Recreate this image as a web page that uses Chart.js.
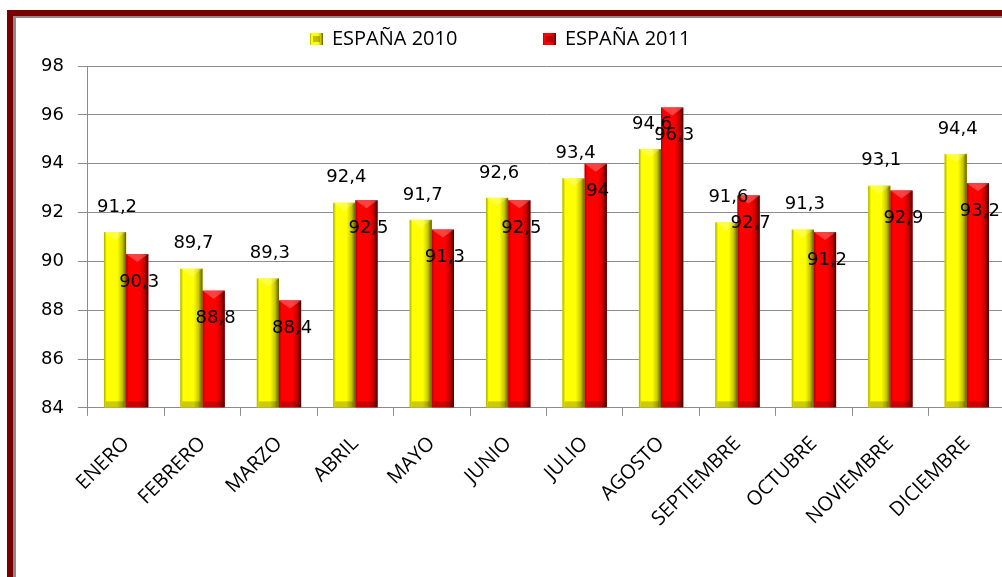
<!DOCTYPE html>
<html>
<head>
<meta charset="utf-8">
<script src="https://cdn.jsdelivr.net/npm/chart.js@4.4.1/dist/chart.umd.min.js"></script>
<style>
  html, body { margin: 0; padding: 0; background: #fff; overflow: hidden; }
  #marco { position: absolute; left: 7px; top: 10px; width: 1100px; height: 700px;
           border-top: 6px solid #780000; border-left: 6px solid #780000; }
  #marco div { width: 100%; height: 100%; border-top: 2px solid #8c8c8c; border-left: 3px solid #8c8c8c; }
  #caja { position: absolute; left: 0; top: 0; width: 1020px; height: 577px; }
</style>
</head>
<body>
<div id="marco"><div></div></div>
<div id="caja"><canvas id="grafico" width="1020" height="577"></canvas></div>
<script>
// Datos de la grafica
const meses = ['ENERO', 'FEBRERO', 'MARZO', 'ABRIL', 'MAYO', 'JUNIO', 'JULIO', 'AGOSTO', 'SEPTIEMBRE', 'OCTUBRE', 'NOVIEMBRE', 'DICIEMBRE'];
const espana2010 = [91.2, 89.7, 89.3, 92.4, 91.7, 92.6, 93.4, 94.6, 91.6, 91.3, 93.1, 94.4];
const espana2011 = [90.3, 88.8, 88.4, 92.5, 91.3, 92.5, 94, 96.3, 92.7, 91.2, 92.9, 93.2];
const series = ['ESPAÑA 2010', 'ESPAÑA 2011'];
const yMin = 84;
const yMax = 98;
const yPaso = 2;

// colores de las barras: [borde claro, centro, medio oscuro, sombra]
const tonos = [
    ['#a9a900', '#ffff00', '#c8c800', '#5c5c00'],
    ['#b00000', '#ff0000', '#c80000', '#3c0000']
];

function numero(v) {
    return String(v).replace('.', ',');
}

function degradado(ctx, x0, x1, t) {
    const g = ctx.createLinearGradient(x0, 0, x1, 0);
    g.addColorStop(0, t[0]);
    g.addColorStop(0.12, t[1]);
    g.addColorStop(0.6, t[1]);
    g.addColorStop(0.82, t[2]);
    g.addColorStop(1, t[3]);
    return g;
}

// barras con efecto cilindro
const barras3d = {
    id: 'barras3d',
    afterDatasetsDraw(chart) {
        const ctx = chart.ctx;
        const area = chart.chartArea;
        ctx.save();
        ctx.beginPath();
        ctx.rect(area.left, area.top, area.right - area.left, area.bottom - area.top);
        ctx.clip();
        chart.data.datasets.forEach((ds, i) => {
            const meta = chart.getDatasetMeta(i);
            meta.data.forEach(bar => {
                const x0 = bar.x - bar.width / 2;
                const x1 = bar.x + bar.width / 2;
                const top = bar.y;
                const base = bar.base;
                ctx.fillStyle = degradado(ctx, x0, x1, tonos[i]);
                ctx.fillRect(x0, top, x1 - x0, base - top);
                // bisel superior
                ctx.fillStyle = 'rgba(255,255,255,0.25)';
                ctx.beginPath();
                ctx.moveTo(x0, top);
                ctx.lineTo(x1, top);
                ctx.lineTo(bar.x, top + 8);
                ctx.closePath();
                ctx.fill();
                // bisel inferior
                ctx.fillStyle = 'rgba(0,0,0,0.2)';
                ctx.fillRect(x0 + 2, base - 6, x1 - x0 - 4, 6);
            });
        });
        ctx.restore();

        // etiquetas de valores
        ctx.save();
        ctx.font = '18px "DejaVu Sans"';
        ctx.fillStyle = '#000';
        ctx.textAlign = 'center';
        ctx.textBaseline = 'middle';
        chart.data.datasets.forEach((ds, i) => {
            const meta = chart.getDatasetMeta(i);
            meta.data.forEach((bar, j) => {
                const dy = i === 0 ? -25 : 28;
                ctx.fillText(numero(ds.data[j]), bar.x + 2, bar.y + dy);
            });
        });
        ctx.restore();
    }
};

// leyenda superior
const leyenda = {
    id: 'leyenda',
    afterDraw(chart) {
        const ctx = chart.ctx;
        const xs = [310, 543];
        ctx.save();
        ctx.font = '20px "Open Sans"';
        ctx.textBaseline = 'middle';
        chart.data.datasets.forEach((ds, i) => {
            const x = xs[i];
            ctx.fillStyle = degradado(ctx, x, x + 13, tonos[i]);
            ctx.fillRect(x, 33, 13, 12);
            ctx.fillStyle = 'rgba(0,0,0,0.25)';
            ctx.fillRect(x + 3, 36, 7, 6);
            ctx.fillStyle = '#000';
            ctx.fillText(ds.label, x + 22, 39);
        });
        ctx.restore();
    }
};

new Chart(document.getElementById('grafico'), {
    type: 'bar',
    data: {
        labels: meses,
        datasets: [
            { label: series[0], data: espana2010, backgroundColor: tonos[0][1], base: yMin },
            { label: series[1], data: espana2011, backgroundColor: tonos[1][1], base: yMin }
        ]
    },
    options: {
        responsive: false,
        animation: false,
        layout: { padding: { top: 66, right: 15, bottom: 30, left: 27 } },
        categoryPercentage: 0.58,
        barPercentage: 1,
        plugins: {
            legend: { display: false },
            tooltip: { enabled: false }
        },
        scales: {
            x: {
                grid: { display: true, drawOnChartArea: false, color: '#8c8c8c', tickLength: 8 },
                border: { color: '#8c8c8c' },
                ticks: {
                    color: '#000',
                    font: { family: 'Open Sans', size: 20 },
                    minRotation: 45,
                    maxRotation: 45,
                    padding: 16
                }
            },
            y: {
                min: yMin,
                max: yMax,
                ticks: {
                    stepSize: yPaso,
                    color: '#000',
                    font: { family: 'DejaVu Sans', size: 18 },
                    padding: 14
                },
                grid: { color: '#8c8c8c', tickLength: 10 },
                border: { color: '#8c8c8c' }
            }
        }
    },
    plugins: [barras3d, leyenda]
});
</script>
</body>
</html>
